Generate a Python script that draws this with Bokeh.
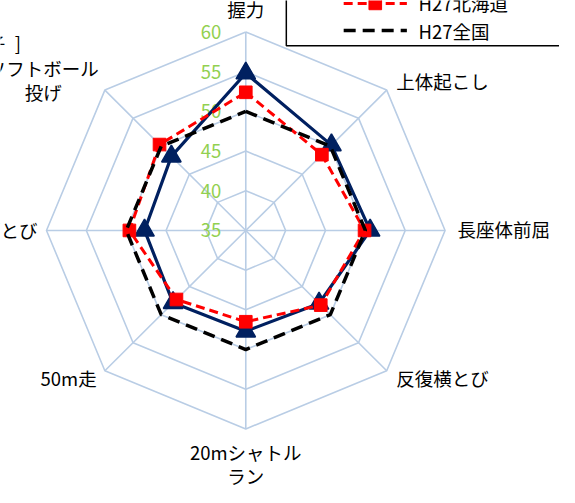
import math
from bokeh.plotting import figure
from bokeh.models import Range1d
from bokeh.core.properties import value
from bokeh.embed import file_html
from bokeh.resources import INLINE

# ---------------- data ----------------
categories = ["握力", "上体起こし", "長座体前屈", "反復横とび",
              "20mシャトルラン", "50m走", "立ち幅とび", "ソフトボール投げ"]
school = [54.8, 50.2, 50.6, 48.0, 47.7, 47.9, 47.7, 48.2]
hokkaido = [52.4, 48.5, 49.9, 48.3, 46.5, 47.3, 49.6, 50.3]
national = [50.0, 50.0, 50.0, 50.0, 50.0, 50.0, 50.0, 50.0]
ticks = [35, 40, 45, 50, 55, 60]
series_names = ["本校", "H27北海道", "H27全国"]
title_parts = ["[ 男子", "]"]

# ---------------- layout ----------------
R_MIN, R_MAX = ticks[0], ticks[-1]
REF_W, REF_H = 575, 503          # reference canvas (px)
CX, CY, S = 252.3, 237.5, 8.2    # centre (reference px) and px per unit
W, H = 559, 487                  # figure size inside the 8px page margin
K = W / REF_W
FONT = value("Noto Sans CJK JP")
FS = "%.1fpx" % (19 * K)

def px(X, Y):
    return (X - CX) / S, (CY - Y) / S

n = len(categories)
angles = [math.pi / 2 - i * 2 * math.pi / n for i in range(n)]

def polar(vals):
    xs = [(v - R_MIN) * math.cos(a) for v, a in zip(vals, angles)]
    ys = [(v - R_MIN) * math.sin(a) for v, a in zip(vals, angles)]
    return xs, ys

p = figure(width=W, height=H, output_backend="svg", toolbar_location=None,
           x_range=Range1d((0 - CX) / S, (REF_W - CX) / S),
           y_range=Range1d((CY - REF_H) / S, (CY - 0) / S),
           min_border=0)
p.axis.visible = False
p.grid.visible = False
p.outline_line_color = None
p.background_fill_color = "white"

GRID = "#B9CDE5"
# rings
for t in ticks[1:]:
    xs, ys = polar([t] * n)
    p.line(xs + [xs[0]], ys + [ys[0]], line_color=GRID, line_width=1.6)
# spokes
ox, oy = polar([R_MIN] * n)
ex, ey = polar([R_MAX] * n)
p.segment(ox, oy, ex, ey, line_color=GRID, line_width=1.6)

# tick labels
for t in ticks:
    x, y = px(227, CY - (t - R_MIN) * S)
    p.text([x], [y], text=[str(t)], text_align="right", text_baseline="middle",
           text_color="#92D050", text_font=FONT, text_font_size=FS)

# series
NAVY, RED = "#002060", "#FF0000"
xs, ys = polar(school)
p.line(xs + [xs[0]], ys + [ys[0]], line_color=NAVY, line_width=3.2)
p.scatter(xs, ys, marker="triangle", size=20 * K, fill_color=NAVY, line_color=NAVY, line_width=1.5)

xs, ys = polar(hokkaido)
p.line(xs + [xs[0]], ys + [ys[0]], line_color=RED, line_width=3, line_dash="9 5")
p.scatter(xs, ys, marker="square", size=13 * K, fill_color=RED, line_color=RED, line_width=1)

xs, ys = polar(national)
p.line(xs + [xs[0]], ys + [ys[0]], line_color="black", line_width=3.5, line_dash="12 7")

# category labels
label_lines = {"20mシャトルラン": ["20mシャトル", "ラン"],
               "ソフトボール投げ": ["ソフトボール", "投げ"]}
label_pos = [(252.3, 9, "center"), (407, 83, "left"), (470, 236, "left"),
             (407, 390, "left"), (252.3, 466, "center"), (99, 390, "right"),
             (38, 237, "right"), (44, 70, "center")]
for cat, (X, Y, al) in zip(categories, label_pos):
    lines = label_lines.get(cat, [cat])
    for k, ln in enumerate(lines):
        x, y = px(X, Y + k * 25)
        p.text([x], [y], text=[ln], text_align=al, text_baseline="middle",
               text_color="black", text_font=FONT, text_font_size=FS)

# title (mostly outside the canvas, as in the reference)
for part, X in zip(title_parts, [5, 21]):
    x, y = px(X, 44)
    p.text([x], [y], text=[part], text_align="right", text_baseline="middle",
           text_color="black", text_font=FONT, text_font_size=FS)

# legend box
l, b = px(294, 46.7)
r, t = px(640, -90)
p.quad(left=[l], right=[r], top=[t], bottom=[b], fill_color="white",
       line_color="black", line_width=1.5)
leg_y = [-25, 3, 31]
styles = [dict(line_color=NAVY, line_width=3.2),
          dict(line_color=RED, line_width=3, line_dash="9 5"),
          dict(line_color="black", line_width=3.5, line_dash="12 7")]
for name, Y, st in zip(series_names, leg_y, styles):
    x0, y0 = px(353, Y)
    x1, _ = px(418, Y)
    p.line([x0, x1], [y0, y0], **st)
    xm, _ = px(385.5, Y)
    if name == series_names[0]:
        p.scatter([xm], [y0], marker="triangle", size=20 * K, fill_color=NAVY, line_color=NAVY)
    elif name == series_names[1]:
        p.scatter([xm], [y0], marker="square", size=13 * K, fill_color=RED, line_color=RED)
    xt, _ = px(430, Y)
    p.text([xt], [y0], text=[name], text_align="left", text_baseline="middle",
           text_color="black", text_font=FONT, text_font_size=FS)

open("out.html", "w").write(file_html(p, INLINE))
